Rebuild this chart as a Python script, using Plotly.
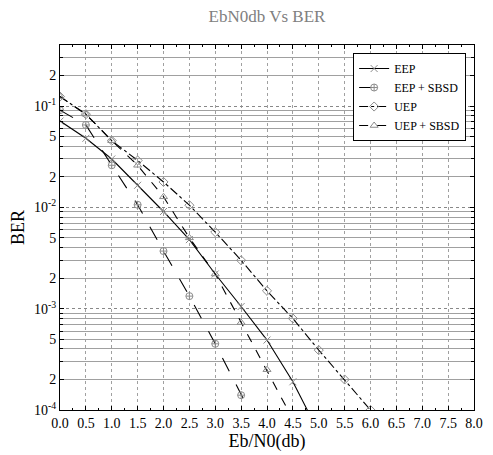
import plotly.graph_objects as go
import math

title_text = "EbN0db Vs BER"

x_eep = [0.0, 0.5, 1.0, 1.5, 2.0, 2.5, 3.0, 3.5, 4.0, 4.5, 5.0]
ber_eep = [0.071, 0.048, 0.030, 0.0165, 0.0091, 0.0048, 0.0022, 0.00105, 0.00049, 0.00019, 0.00006]

x_eep_sbsd = [0.0, 0.5, 1.0, 1.5, 2.0, 2.5, 3.0, 3.5, 4.0]
ber_eep_sbsd = [0.091, 0.065, 0.026, 0.0106, 0.0037, 0.00133, 0.00045, 0.00014, 0.000045]

x_uep = [0.0, 0.5, 1.0, 1.5, 2.0, 2.5, 3.0, 3.5, 4.0, 4.5, 5.0, 5.5, 6.0]
ber_uep = [0.124, 0.083, 0.0455, 0.029, 0.0178, 0.0105, 0.0057, 0.0030, 0.0015, 0.00080, 0.00039, 0.00020, 0.0001]

x_uep_sbsd = [0.0, 0.5, 1.0, 1.5, 2.0, 2.5, 3.0, 3.5, 4.0, 4.5]
ber_uep_sbsd = [0.124, 0.083, 0.0455, 0.026, 0.0127, 0.0050, 0.0022, 0.00073, 0.00025, 0.000081]

x_ticks = [i * 0.5 for i in range(17)]
decades = [1e-4, 1e-3, 1e-2, 1e-1]
decade_labels = ["10<sup>-4</sup>", "10<sup>-3</sup>", "10<sup>-2</sup>", "10<sup>-1</sup>"]

serif = "Liberation Serif"
marker_gray = "#8c8c8c"

fig = go.Figure()

series = [
    ("EEP", x_eep, ber_eep, "solid", "x-thin-open"),
    ("EEP + SBSD", x_eep_sbsd, ber_eep_sbsd, "longdash", "circle-cross-open"),
    ("UEP", x_uep, ber_uep, "dashdot", "diamond-open"),
    ("UEP + SBSD", x_uep_sbsd, ber_uep_sbsd, "dash", "triangle-up-open"),
]
for name, xs, ys, dash, sym in series:
    fig.add_trace(go.Scatter(
        x=xs, y=ys, name=name, mode="lines+markers",
        line=dict(color="black", width=1.1, dash=dash),
        marker=dict(symbol=sym, size=7, color=marker_gray, line=dict(color=marker_gray, width=1)),
        cliponaxis=True,
    ))

# invisible trace to activate the overlay axis for decade grid
fig.add_trace(go.Scatter(x=[None], y=[None], yaxis="y2", showlegend=False, hoverinfo="skip"))

major_vals, major_text, minor_vals = [], [], []
for i, d in enumerate(decades):
    major_vals.append(d)
    major_text.append(decade_labels[i])
    for m in (2, 5):
        if d * m < 0.41:
            major_vals.append(d * m)
            major_text.append(str(m))
    for m in range(2, 10):
        if d * m < 0.41:
            minor_vals.append(d * m)

yrange = [-4, math.log10(0.4)]

fig.update_layout(
    width=493, height=455,
    margin=dict(l=60, r=10, t=45, b=41),
    paper_bgcolor="white", plot_bgcolor="white",
    font=dict(family=serif, color="black", size=14),
    title=dict(text=title_text, x=0.5, xref="paper", y=0.965, yref="container",
               xanchor="center", yanchor="middle",
               font=dict(family=serif, size=17, color="#808080")),
    showlegend=True,
    legend=dict(x=0.981, y=0.978, xanchor="right", yanchor="top",
                bgcolor="white", bordercolor="black", borderwidth=1,
                font=dict(family=serif, size=12), tracegroupgap=0, itemwidth=30),
    xaxis=dict(
        range=[0, 8], tickvals=x_ticks, tickformat=".1f",
        showline=True, linecolor="black", linewidth=1, mirror="ticks",
        ticks="inside", ticklen=4, tickcolor="black",
        showgrid=True, gridcolor="#a0a0a0", griddash="dot", gridwidth=1,
        zeroline=False,
        minor=dict(dtick=0.25, ticks="inside", ticklen=2, tickcolor="black", showgrid=False),
        title=dict(text="Eb/N0(db)", font=dict(family=serif, size=18), standoff=2),
        tickfont=dict(family=serif, size=14),
    ),
    yaxis=dict(
        type="log", range=yrange, tickvals=major_vals, ticktext=major_text,
        showline=True, linecolor="black", linewidth=1, mirror="ticks",
        ticks="inside", ticklen=4, tickcolor="black",
        showgrid=False, zeroline=False,
        minor=dict(tickvals=minor_vals, ticks="inside", ticklen=3, tickcolor="black",
                   showgrid=True, gridcolor="#a0a0a0", gridwidth=1.3),
        title=dict(text="BER", font=dict(family=serif, size=18), standoff=4),
        tickfont=dict(family=serif, size=14),
    ),
    yaxis2=dict(
        type="log", range=yrange, overlaying="y", side="left",
        tickvals=decades, showticklabels=False, ticks="",
        showgrid=True, gridcolor="#888888", griddash="dot", gridwidth=1,
        showline=False, zeroline=False,
    ),
)

fig.write_html("out.html")
